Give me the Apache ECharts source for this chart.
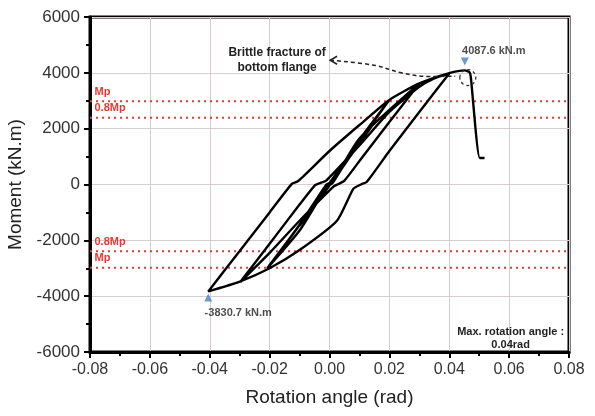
<!DOCTYPE html>
<html><head><meta charset="utf-8">
<script src="https://cdn.jsdelivr.net/npm/echarts@6/dist/echarts.min.js"></script>
<style>html,body{margin:0;padding:0;background:#fff}#c{width:595px;height:416px}</style>
</head><body><div id="c"></div>
<script>
// Hysteresis path: rotation (rad) and moment (kN.m)
const rotation = [
 0, 0.00375, 0.001, -0.00375, -0.001,
 0.005, 0.0015, -0.005, -0.0015,
 0.0075, 0.002, -0.0075, -0.002,
 0.01, 0.003, -0.01, -0.003,
 0.015, 0.0045, -0.015, -0.0045,
 0.02, 0.01, 0.001, -0.001, -0.01, -0.0208,
 -0.01, -0.001, 0.001, 0.01, 0.0302,
 0.02, 0.01, 0.005, 0.003, 0.0015, -0.01, -0.02, -0.0298,
 -0.02, -0.01, -0.0048, -0.003, -0.001, 0.01, 0.02, 0.03, 0.035, 0.04,
 0.03, 0.02, 0.0125, 0.0105, 0.008, 0.0025, -0.01, -0.02, -0.03, -0.0405,
 -0.03, -0.02, -0.0125, -0.0105, 0, 0.01, 0.02, 0.03, 0.04, 0.0452,
 0.0468, 0.0472, 0.0502, 0.0518
];
const moment = [
 0, 560, 150, -540, -130,
 760, 200, -740, -180,
 1120, 280, -1100, -260,
 1500, 400, -1480, -380,
 2220, 650, -2180, -620,
 3030, 1600, 50, -100, -1650, -3000,
 -1450, 0, 100, 1650, 3640,
 2240, 840, 140, 20, -60, -1300, -2450, -3495,
 -2120, -720, -20, 60, 150, 1400, 2600, 3500, 3800, 3980,
 2600, 1200, 100, 0, -150, -1300, -2350, -3000, -3480, -3830.7,
 -2380, -1000, 30, 120, 1200, 2130, 3030, 3620, 3990, 4087.6,
 4020, 3850, 950, 950
];
const Mp = 2985;
const refLevels = [Mp, 0.8 * Mp, -0.8 * Mp, -Mp];
const refNames = ['Mp', '0.8Mp', '0.8Mp', 'Mp'];
const peakPos = [0.0452, 4087.6];
const peakNeg = [-0.0405, -3830.7];
const xTicks = [-0.08, 0.08, 0.02];
const yTicks = [-6000, 6000, 2000];
// dashed annotation arrow path (data coords)
const arrowX = [0.0002, 0.015, 0.024, 0.033, 0.042];
const arrowY = [4450, 4270, 4000, 3870, 3880];

const chart = echarts.init(document.getElementById('c'));
const path = rotation.map((r, i) => [r, moment[i]]);
const series = [];
refLevels.forEach((v) => {
  series.push({type: 'line', data: [[xTicks[0], v], [xTicks[1], v]], symbol: 'none', silent: true,
    lineStyle: {color: '#e53935', width: 2, type: [2, 4]}, z: 2});
});
series.push({type: 'line', data: path, symbol: 'none', smooth: 0.2,
  lineStyle: {color: '#000', width: 2.4}, z: 5});
series.push({type: 'line', data: arrowX.map((x, i) => [x, arrowY[i]]), symbol: 'none', smooth: 0.4,
  lineStyle: {color: '#222', width: 1.5, type: [4, 3]}, z: 6});
series.push({type: 'scatter', data: [peakPos], symbol: 'triangle', symbolRotate: 180, symbolSize: 8,
  symbolOffset: [0, -9], itemStyle: {color: '#4a7fc1'}, z: 7,
  label: {show: true, position: 'top', distance: 1, offset: [29, 0], formatter: '4087.6 kN.m', color: '#222', fontSize: 11, fontWeight: 'bold', fontFamily: 'Liberation Sans'}});
series.push({type: 'scatter', data: [peakNeg], symbol: 'triangle', symbolSize: 8,
  symbolOffset: [0, 6], itemStyle: {color: '#4a7fc1'}, z: 7,
  label: {show: true, position: 'bottom', distance: 6, offset: [30, 0], formatter: '-3830.7 kN.m', color: '#222', fontSize: 11, fontWeight: 'bold', fontFamily: 'Liberation Sans'}});

chart.setOption({
  animation: false,
  backgroundColor: '#fff',
  grid: {left: 90, right: 26, top: 17, bottom: 64, outerBoundsMode: 'none', containLabel: false, show: true, borderColor: '#000', borderWidth: 3, backgroundColor: 'transparent'},
  xAxis: {type: 'value', min: xTicks[0], max: xTicks[1], interval: xTicks[2],
    name: 'Rotation angle (rad)', nameLocation: 'middle', nameGap: 36,
    nameTextStyle: {fontSize: 19, color: '#222', fontFamily: 'Liberation Sans'},
    axisLine: {show: true, onZero: false, lineStyle: {color: '#000', width: 3}},
    axisTick: {show: true, length: 6, lineStyle: {color: '#000', width: 2}},
    minorTick: {show: true, splitNumber: 2, length: 4, lineStyle: {color: '#000', width: 2}},
    axisLabel: {fontSize: 16, color: '#333', fontFamily: 'Liberation Sans', margin: 10, formatter: v => v.toFixed(2)},
    splitLine: {show: true, lineStyle: {color: '#d8cccc', width: 1}}},
  yAxis: {type: 'value', min: yTicks[0], max: yTicks[1], interval: yTicks[2],
    name: 'Moment (kN.m)', nameLocation: 'middle', nameGap: 54,
    nameTextStyle: {fontSize: 19, color: '#222', fontFamily: 'Liberation Sans'},
    axisLine: {show: true, onZero: false, lineStyle: {color: '#000', width: 3}},
    axisTick: {show: true, length: 6, lineStyle: {color: '#000', width: 2}},
    minorTick: {show: true, splitNumber: 2, length: 4, lineStyle: {color: '#000', width: 2}},
    axisLabel: {fontSize: 17, color: '#333', fontFamily: 'Liberation Sans', margin: 10, formatter: v => String(v)},
    splitLine: {show: true, lineStyle: {color: '#d8cccc', width: 1}}},
  series: series
});

// annotations positioned from data coordinates
const px = (x, y) => chart.convertToPixel({gridIndex: 0}, [x, y]);
const g = [];
refLevels.forEach((v, i) => {
  const p = px(-0.0785, v);
  g.push({type: 'text', left: p[0], top: p[1] - 15, style: {text: refNames[i], fill: '#e53935', fontSize: 11, fontWeight: 'bold', fontFamily: 'Liberation Sans'}});
});
const t = px(-0.0175, 4450);
g.push({type: 'text', x: t[0], y: t[1], style: {text: 'Brittle fracture of\nbottom flange', fill: '#222', fontSize: 12, fontWeight: 'bold', fontFamily: 'Liberation Sans', align: 'center', verticalAlign: 'middle', lineHeight: 15}});
const a = px(arrowX[0], arrowY[0]);
g.push({type: 'polyline', shape: {points: [[a[0] + 7, a[1] - 4], [a[0], a[1]], [a[0] + 7, a[1] + 4]]}, style: {stroke: '#222', lineWidth: 1.5, fill: 'none'}, z: 10});
const e = px(0.0462, 3830);
g.push({type: 'ellipse', shape: {cx: e[0], cy: e[1], rx: 8, ry: 8}, style: {fill: 'none', stroke: '#333', lineWidth: 1.3, lineDash: [3, 3]}, z: 10});
const m = px(0.0605, -5500);
g.push({type: 'text', x: m[0], y: m[1], style: {text: 'Max. rotation angle :\n0.04rad', fill: '#222', fontSize: 11, fontWeight: 'bold', fontFamily: 'Liberation Sans', align: 'center', verticalAlign: 'middle', lineHeight: 13}});
chart.setOption({graphic: g});
</script>
</body></html>
